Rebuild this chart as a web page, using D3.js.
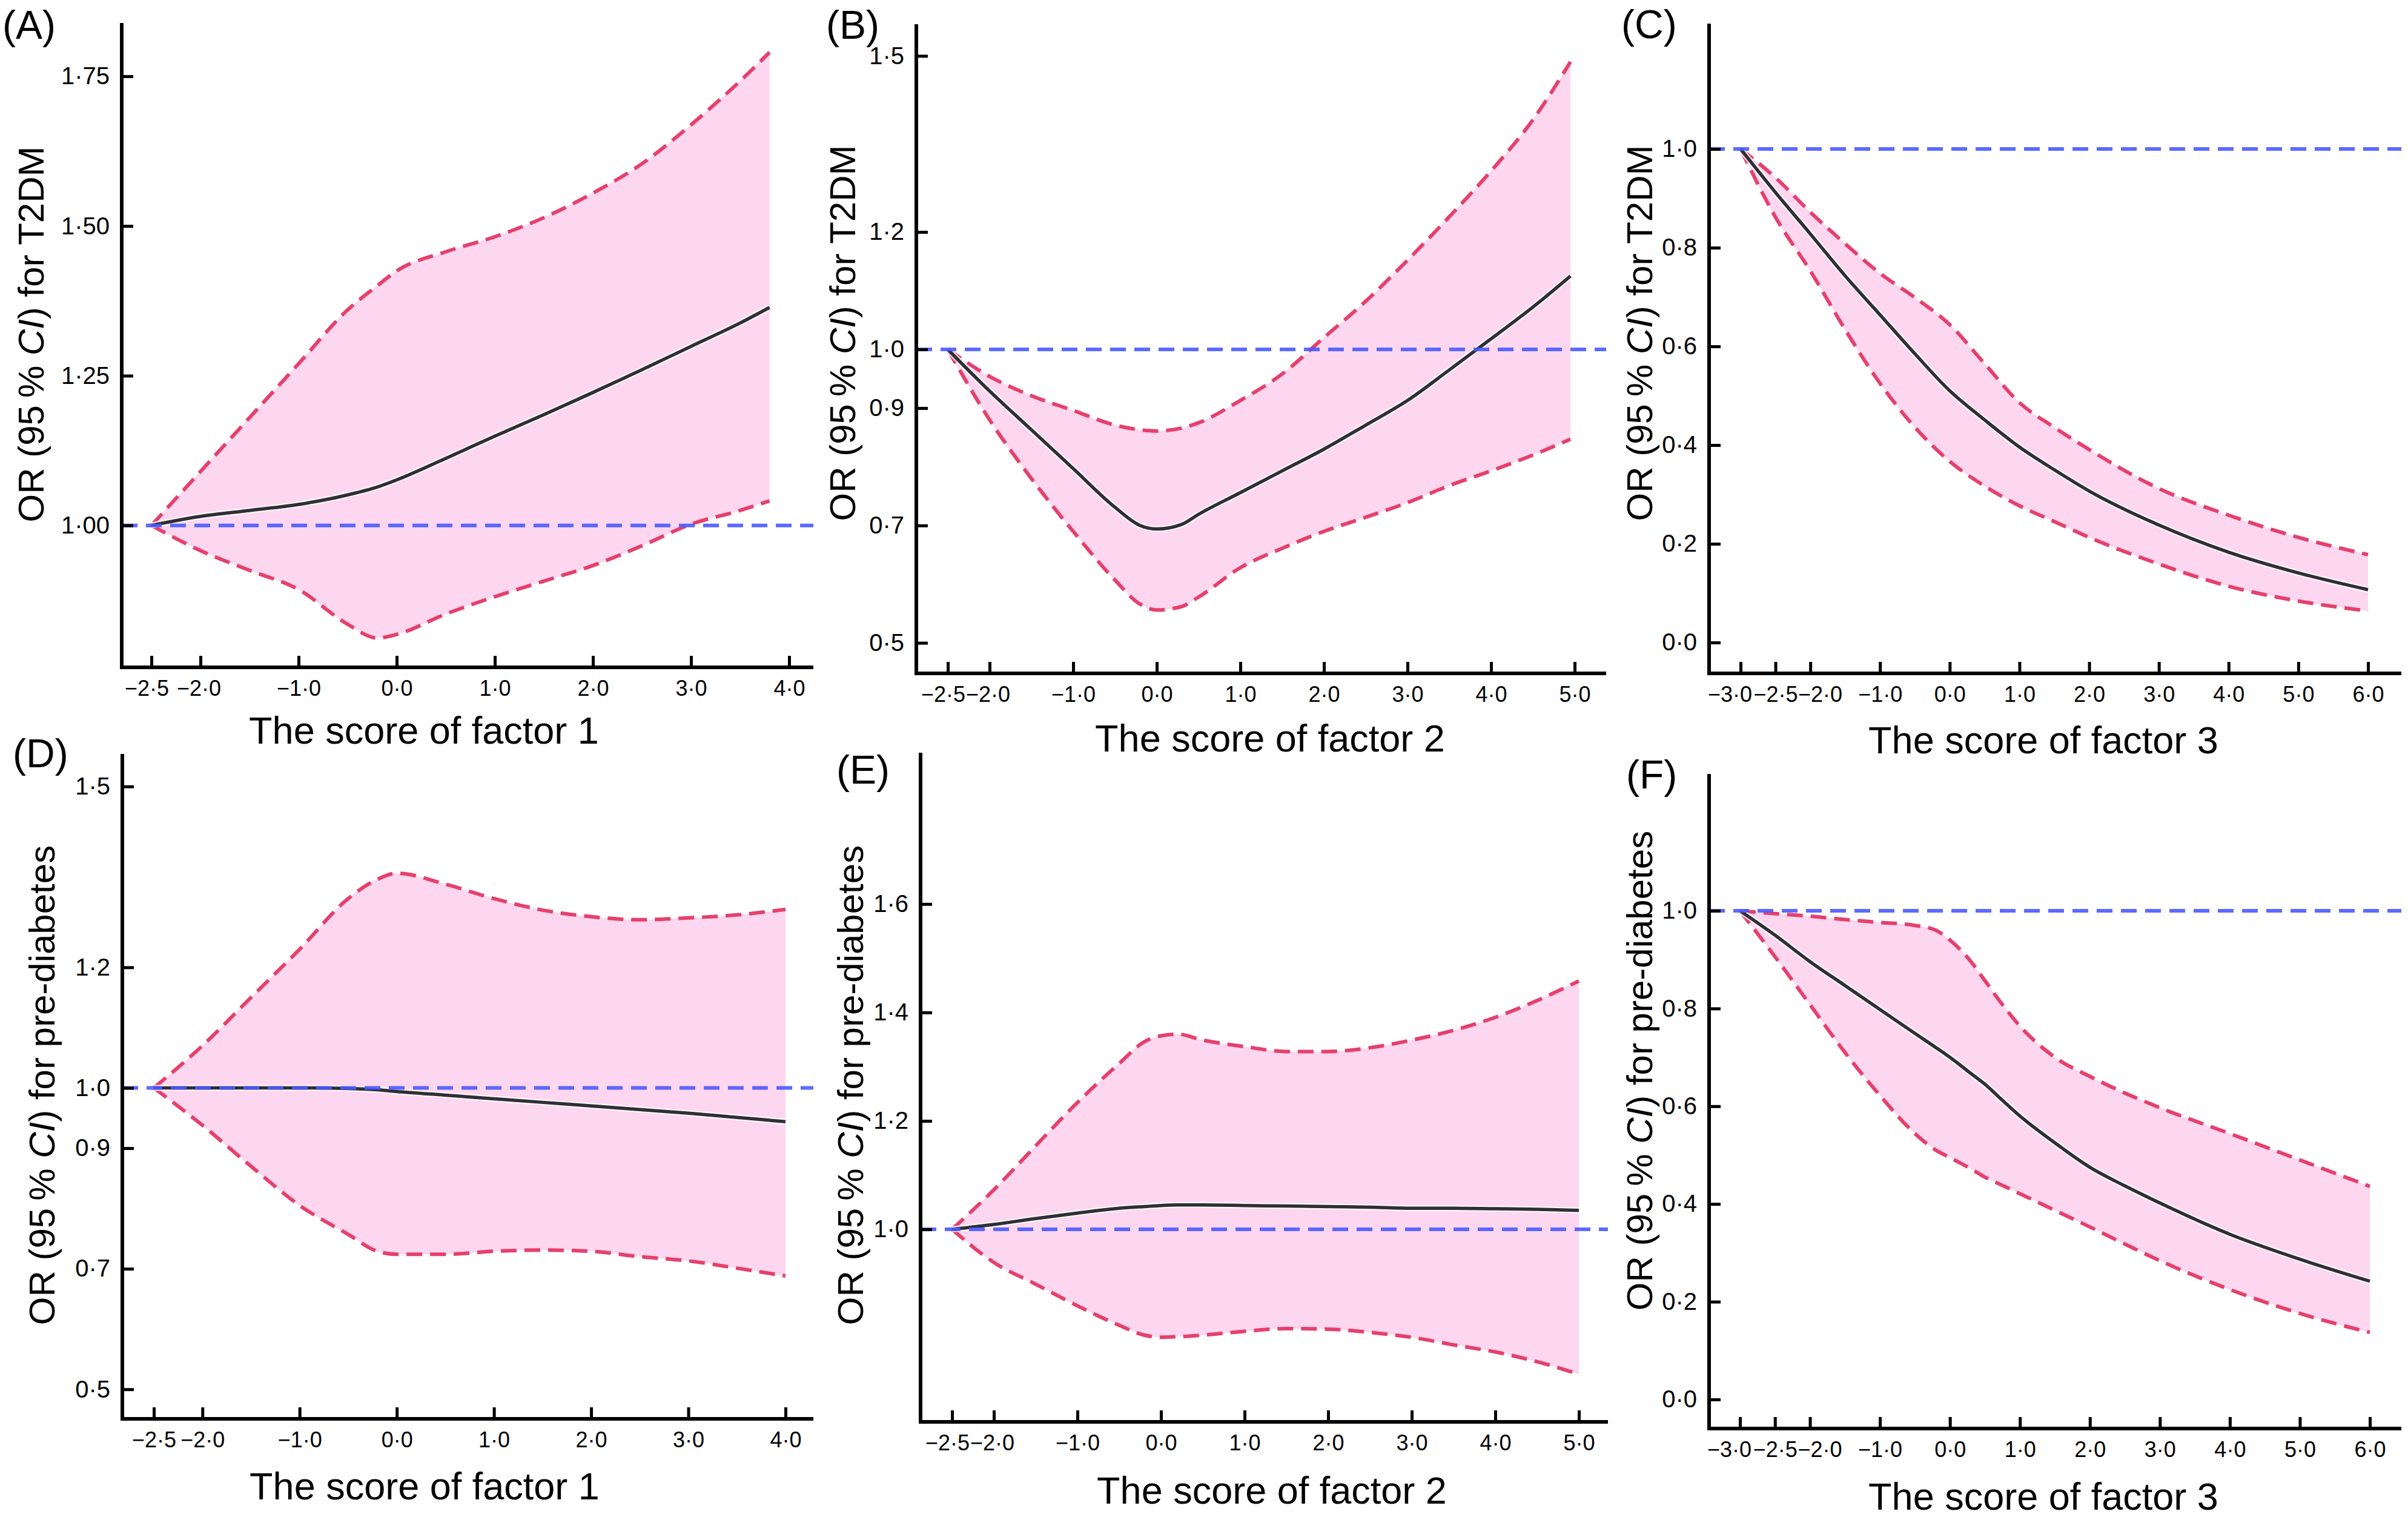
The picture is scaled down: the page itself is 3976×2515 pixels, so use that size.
<!DOCTYPE html>
<html>
<head>
<meta charset="utf-8">
<script src="https://cdnjs.cloudflare.com/ajax/libs/d3/7.8.5/d3.min.js"></script>
<style>
  body { margin: 0; background: #fff; }
  text { font-family: "Liberation Sans", Arial, sans-serif; fill: #000; }
</style>
</head>
<body>
<div id="graph"></div>
<script>
// ---- data ----
// (A) factor 1, T2DM
const aX      = [-2.5, -2.0, -1.5, -1.0, -0.5, -0.2, 0.0, 0.5, 1.0, 1.5, 2.0, 2.5, 3.0, 3.5, 3.8];
const aUpper  = [1.00, 1.09, 1.18, 1.27, 1.36, 1.40, 1.425, 1.457, 1.482, 1.514, 1.555, 1.604, 1.669, 1.742, 1.79];
const aCenter = [1.00, 1.015, 1.025, 1.035, 1.051, 1.064, 1.076, 1.112, 1.149, 1.185, 1.222, 1.26, 1.299, 1.338, 1.364];
const aLower  = [1.00, 0.958, 0.925, 0.893, 0.835, 0.812, 0.818, 0.852, 0.881, 0.907, 0.933, 0.966, 1.002, 1.025, 1.041];

// (B) factor 2, T2DM
const bX      = [-2.5, -2.0, -1.5, -1.0, -0.5, -0.2, 0.0, 0.3, 0.5, 1.0, 1.5, 2.0, 2.5, 3.0, 3.5, 4.0, 4.5, 4.95];
const bUpper  = [1.0, 0.954, 0.921, 0.896, 0.871, 0.863, 0.861, 0.866, 0.875, 0.913, 0.958, 1.02, 1.082, 1.152, 1.226, 1.304, 1.391, 1.49];
const bCenter = [1.0, 0.929, 0.863, 0.797, 0.731, 0.70, 0.694, 0.702, 0.719, 0.756, 0.793, 0.830, 0.871, 0.913, 0.965, 1.018, 1.072, 1.125];
const bLower  = [1.0, 0.88, 0.78, 0.69, 0.607, 0.566, 0.556, 0.562, 0.578, 0.628, 0.661, 0.69, 0.714, 0.739, 0.768, 0.793, 0.82, 0.847];

// (C) factor 3, T2DM
const cX      = [-3.0, -2.5, -2.0, -1.5, -1.0, -0.5, 0.0, 0.5, 1.0, 1.5, 2.0, 3.0, 4.0, 5.0, 6.0];
const cUpper  = [1.0, 0.942, 0.872, 0.808, 0.748, 0.699, 0.644, 0.565, 0.486, 0.436, 0.391, 0.312, 0.258, 0.213, 0.178];
const cCenter = [1.0, 0.912, 0.828, 0.743, 0.664, 0.585, 0.51, 0.451, 0.396, 0.35, 0.307, 0.238, 0.183, 0.141, 0.107];
const cLower  = [1.0, 0.862, 0.753, 0.634, 0.525, 0.436, 0.367, 0.317, 0.277, 0.245, 0.213, 0.159, 0.114, 0.084, 0.064];

// (D) factor 1, pre-diabetes
const dX      = [-2.5, -2.0, -1.5, -1.0, -0.5, -0.2, 0.0, 0.5, 1.0, 1.5, 2.0, 2.5, 3.0, 3.5, 4.0];
const dUpper  = [1.0, 1.07, 1.15, 1.23, 1.314, 1.346, 1.356, 1.338, 1.314, 1.295, 1.284, 1.279, 1.282, 1.287, 1.296];
const dCenter = [1.0, 1.0, 1.0, 1.0, 0.999, 0.997, 0.994, 0.988, 0.982, 0.976, 0.970, 0.964, 0.958, 0.951, 0.944];
const dLower  = [1.0, 0.938, 0.87, 0.805, 0.757, 0.729, 0.724, 0.724, 0.729, 0.731, 0.729, 0.72, 0.713, 0.701, 0.688];

// (E) factor 2, pre-diabetes
const eX      = [-2.5, -2.0, -1.5, -1.0, -0.5, -0.2, 0.0, 0.2, 0.5, 1.0, 1.5, 2.0, 2.5, 3.0, 3.5, 4.0, 4.5, 5.0];
const eUpper  = [1.0, 1.073, 1.154, 1.234, 1.306, 1.346, 1.357, 1.36, 1.349, 1.337, 1.328, 1.328, 1.335, 1.349, 1.367, 1.391, 1.422, 1.458];
const eCenter = [1.0, 1.009, 1.02, 1.03, 1.039, 1.042, 1.044, 1.045, 1.045, 1.044, 1.043, 1.042, 1.041, 1.039, 1.039, 1.038, 1.037, 1.035];
const eLower  = [1.0, 0.939, 0.899, 0.859, 0.823, 0.805, 0.801, 0.802, 0.805, 0.812, 0.817, 0.816, 0.81, 0.801, 0.787, 0.774, 0.756, 0.733];

// (F) factor 3, pre-diabetes
const fX      = [-3.0, -2.5, -2.0, -1.5, -1.0, -0.5, -0.2, 0.0, 0.3, 0.5, 0.75, 1.0, 1.5, 2.0, 2.5, 3.0, 4.0, 5.0, 6.0];
const fUpper  = [1.0, 0.994, 0.989, 0.982, 0.976, 0.970, 0.96, 0.94, 0.896, 0.857, 0.808, 0.764, 0.70, 0.661, 0.627, 0.597, 0.544, 0.49, 0.436];
const fCenter = [1.0, 0.95, 0.896, 0.847, 0.798, 0.749, 0.72, 0.70, 0.667, 0.645, 0.612, 0.580, 0.525, 0.475, 0.437, 0.402, 0.338, 0.287, 0.242];
const fLower  = [1.0, 0.906, 0.808, 0.71, 0.622, 0.544, 0.51, 0.495, 0.472, 0.455, 0.438, 0.421, 0.387, 0.353, 0.318, 0.284, 0.225, 0.176, 0.137];

// tick values
const xTicks1 = [-2.5, -2, -1, 0, 1, 2, 3, 4];
const xTicks2 = [-2.5, -2, -1, 0, 1, 2, 3, 4, 5];
const xTicks3 = [-3, -2.5, -2, -1, 0, 1, 2, 3, 4, 5, 6];
const yTicksA = [1.00, 1.25, 1.50, 1.75];
const yTicksB = [0.5, 0.7, 0.9, 1.0, 1.2, 1.5];
const yTicksC = [0.0, 0.2, 0.4, 0.6, 0.8, 1.0];
const yTicksD = [0.5, 0.7, 0.9, 1.0, 1.2, 1.5];
const yTicksE = [1.0, 1.2, 1.4, 1.6];
const yTicksF = [0.0, 0.2, 0.4, 0.6, 0.8, 1.0];

const panelLetters = ["(A)", "(B)", "(C)", "(D)", "(E)", "(F)"];
const xTitles = ["The score of factor 1", "The score of factor 2", "The score of factor 3",
                 "The score of factor 1", "The score of factor 2", "The score of factor 3"];
const yOutcome = ["T2DM", "T2DM", "T2DM", "pre-diabetes", "pre-diabetes", "pre-diabetes"];

// ---- layout ----
const W = 3976, H = 2515;

// crowded tick labels near the left end are pushed apart a little
const nudge1 = { "-2.5": -8, "-2": -3 };
const nudge3 = { "-3": -18, "-2": 16 };

const panels = [
  { x: aX, up: aUpper, mid: aCenter, lo: aLower, xt: xTicks1, yt: yTicksA, yd: 2, nudge: nudge1,
    left: 201, right: 1343, top: 38, bottom: 1102, yDom: [0.763, 1.839],
    lab: [4, 64], xTitle: [700, 1228], yTitle: [72, 552] },
  { x: bX, up: bUpper, mid: bCenter, lo: bLower, xt: xTicks2, yt: yTicksB, yd: 1, nudge: nudge1,
    left: 1513, right: 2652, top: 40, bottom: 1112, yDom: [0.448, 1.554],
    lab: [1364, 64], xTitle: [2097, 1241], yTitle: [1412, 550] },
  { x: cX, up: cUpper, mid: cCenter, lo: cLower, xt: xTicks3, yt: yTicksC, yd: 1, nudge: nudge3,
    left: 2822, right: 3965, top: 39, bottom: 1112, yDom: [-0.0626, 1.254],
    lab: [2677, 63], xTitle: [3374, 1244], yTitle: [2728, 550] },
  { x: dX, up: dUpper, mid: dCenter, lo: dLower, xt: xTicks1, yt: yTicksD, yd: 1, nudge: {},
    left: 202, right: 1343, top: 1245, bottom: 2343, yDom: [0.451, 1.554],
    lab: [21, 1267], xTitle: [701, 2476], yTitle: [90, 1792] },
  { x: eX, up: eUpper, mid: eCenter, lo: eLower, xt: xTicks2, yt: yTicksE, yd: 1, nudge: nudge1,
    left: 1520, right: 2655, top: 1243, bottom: 2348, yDom: [0.645, 1.879],
    lab: [1381, 1294], xTitle: [2100, 2483], yTitle: [1425, 1792] },
  { x: fX, up: fUpper, mid: fCenter, lo: fLower, xt: xTicks3, yt: yTicksF, yd: 1, nudge: nudge3,
    left: 2822, right: 3965, top: 1278, bottom: 2359, yDom: [-0.0595, 1.28],
    lab: [2685, 1302], xTitle: [3374, 2493], yTitle: [2728, 1768] }
];
// pixel positions of the first and last x tick of each panel
const xTickPx = [[250, 1303], [1565, 2600], [2874, 3910], [254, 1297], [1572, 2607], [2873, 3913]];

// number style of the journal: middle dot and real minus sign
function fmt(v, digits) {
  return v.toFixed(digits).replace(".", "\u00b7").replace("-", "\u2212");
}

const svg = d3.select("#graph").append("svg")
  .attr("width", W).attr("height", H)
  .style("background", "#fff");

panels.forEach((p, i) => {
  const t0 = p.xt[0], t1 = p.xt[p.xt.length - 1];
  const xScale = d3.scaleLinear().domain([t0, t1]).range(xTickPx[i]);
  const yScale = d3.scaleLinear().domain(p.yDom).range([p.bottom, p.top]);
  const g = svg.append("g");

  const rows = p.x.map((v, k) => ({ x: v, up: p.up[k], mid: p.mid[k], lo: p.lo[k] }));

  // confidence band
  g.append("path")
    .datum(rows)
    .attr("fill", "#fdd6ef")
    .attr("d", d3.area().curve(d3.curveMonotoneX)
      .x(d => xScale(d.x)).y0(d => yScale(d.lo)).y1(d => yScale(d.up)));

  // CI bounds
  ["up", "lo"].forEach(key => {
    g.append("path")
      .datum(rows)
      .attr("fill", "none")
      .attr("stroke", "#e6406c")
      .attr("stroke-width", 6)
      .attr("stroke-dasharray", "26,13")
      .attr("d", d3.line().curve(d3.curveMonotoneX)
        .x(d => xScale(d.x)).y(d => yScale(d[key])));
  });

  // OR curve with light halo
  const mid = d3.line().curve(d3.curveMonotoneX).x(d => xScale(d.x)).y(d => yScale(d.mid));
  g.append("path").datum(rows).attr("fill", "none")
    .attr("stroke", "#ffffff").attr("stroke-width", 10).attr("opacity", 0.8).attr("d", mid);
  g.append("path").datum(rows).attr("fill", "none")
    .attr("stroke", "#2f2f35").attr("stroke-width", 5.5).attr("d", mid);

  // reference line at OR = 1, on top
  g.append("line")
    .attr("x1", p.left).attr("x2", p.right)
    .attr("y1", yScale(1)).attr("y2", yScale(1))
    .attr("stroke", "#4a5aff").attr("stroke-width", 6).attr("opacity", 0.9)
    .attr("stroke-dasharray", "26,14");

  // axes: draw the axis lines over the full frame, ticks from the scale
  const xAxis = d3.axisBottom(xScale).tickValues(p.xt)
    .tickSize(-19).tickSizeOuter(0).tickPadding(21)
    .tickFormat(v => fmt(v, 1));
  const gx = g.append("g").attr("transform", `translate(0,${p.bottom})`).call(xAxis);
  gx.attr("font-size", 36);
  gx.select(".domain").remove();
  gx.selectAll(".tick line").attr("stroke", "#000").attr("stroke-width", 5);
  gx.selectAll(".tick text").style("font-size", "36px")
    .attr("dx", d => p.nudge[String(d)] || 0);
  g.append("line")
    .attr("x1", p.left - 3).attr("x2", p.right)
    .attr("y1", p.bottom).attr("y2", p.bottom)
    .attr("stroke", "#000").attr("stroke-width", 6);

  const yAxis = d3.axisLeft(yScale).tickValues(p.yt)
    .tickSize(-19).tickSizeOuter(0).tickPadding(20)
    .tickFormat(v => fmt(v, p.yd));
  const gy = g.append("g").attr("transform", `translate(${p.left},0)`).call(yAxis);
  gy.attr("font-size", 40);
  gy.select(".domain").remove();
  gy.selectAll(".tick line").attr("stroke", "#000").attr("stroke-width", 5);
  gy.selectAll(".tick text").style("font-size", "40px");
  g.append("line")
    .attr("x1", p.left).attr("x2", p.left)
    .attr("y1", p.top).attr("y2", p.bottom + 3)
    .attr("stroke", "#000").attr("stroke-width", 6);
  g.selectAll(".tick text").style("font-family", "'Liberation Sans', Arial, sans-serif").attr("fill", "#000");

  // titles
  g.append("text")
    .attr("x", p.xTitle[0]).attr("y", p.xTitle[1])
    .attr("text-anchor", "middle")
    .style("font-size", "63px")
    .text(xTitles[i]);

  const yt = g.append("text")
    .attr("transform", `translate(${p.yTitle[0]},${p.yTitle[1]}) rotate(-90)`)
    .attr("text-anchor", "middle")
    .style("font-size", "60px");
  yt.append("tspan").text("OR (95\u2009% ");
  yt.append("tspan").style("font-style", "italic").text("CI");
  yt.append("tspan").text(") for " + yOutcome[i]);

  g.append("text")
    .attr("x", p.lab[0]).attr("y", p.lab[1])
    .style("font-size", "66px")
    .text(panelLetters[i]);
});
</script>
</body>
</html>
